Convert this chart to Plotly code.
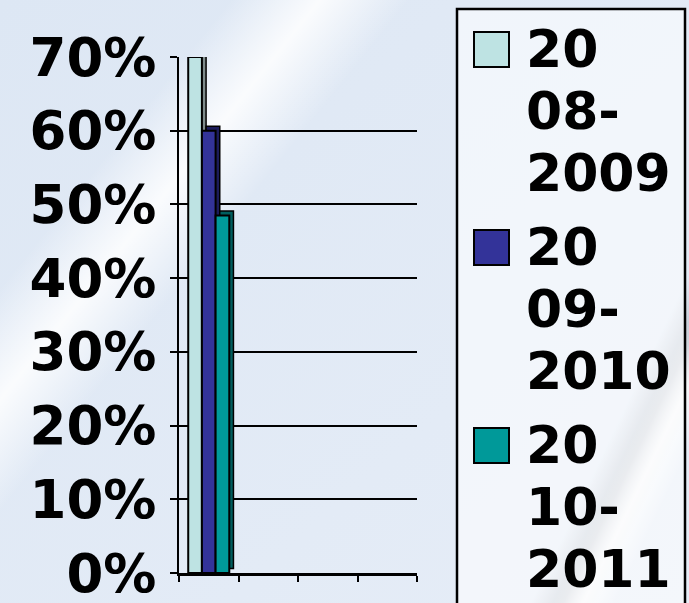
import base64
import math
import plotly.graph_objects as go

# ---------------- data ----------------
categories = ["c1", "c2", "c3", "c4"]          # category slots on the x axis (labels hidden)
series_names = ["2008-2009", "2009-2010", "2010-2011"]
series_values = [0.70, 0.60, 0.485]
series_colors = ["#BEE3E3", "#333399", "#009999"]
side_colors = ["#7F8C8C", "#1B1B5A", "#005E5E"]
y_tick_values = [0.0, 0.1, 0.2, 0.3, 0.4, 0.5, 0.6, 0.7]
y_tick_labels = ["0%", "10%", "20%", "30%", "40%", "50%", "60%", "70%"]

# ---------------- geometry ----------------
W, H = 689, 603
ML, MR, MT, MB = 179, 272, 57, 30
PW, PH = W - ML - MR, H - MT - MB


def fx(px):
    return (px - ML) / PW


def fy(py):
    return 1 - (py - MT) / PH


FONT = dict(family="DejaVu Sans", size=52, color="black", weight="bold")
TICKFONT = dict(family="DejaVu Sans", size=53, color="black", weight="bold")

# ---------------- background (svg gradient image) ----------------
def band(id_, p0, p1, half, color, peak_op):
    (x0, y0), (x1, y1) = p0, p1
    dx, dy = x1 - x0, y1 - y0
    ln = math.hypot(dx, dy)
    nx, ny = dy / ln, -dx / ln
    if nx < 0:
        nx, ny = -nx, -ny
    L = 900
    sx, sy = x0 - nx * L / 2, y0 - ny * L / 2
    ex, ey = x0 + nx * L / 2, y0 + ny * L / 2
    a = (L / 2 - half) / L
    b = (L / 2 + half) / L
    return (f"<linearGradient id='{id_}' gradientUnits='userSpaceOnUse' x1='{sx:.1f}' y1='{sy:.1f}' x2='{ex:.1f}' y2='{ey:.1f}'>"
            f"<stop offset='0' stop-color='{color}' stop-opacity='0'/>"
            f"<stop offset='{a:.4f}' stop-color='{color}' stop-opacity='0'/>"
            f"<stop offset='0.5' stop-color='{color}' stop-opacity='{peak_op}'/>"
            f"<stop offset='{b:.4f}' stop-color='{color}' stop-opacity='0'/>"
            f"<stop offset='1' stop-color='{color}' stop-opacity='0'/>"
            f"</linearGradient>")


svg = (f"<svg xmlns='http://www.w3.org/2000/svg' width='{W}' height='{H}'>"
       "<defs>"
       "<linearGradient id='bg' x1='0' y1='0' x2='1' y2='1'>"
       "<stop offset='0' stop-color='#DDE7F4'/><stop offset='1' stop-color='#E6EDF7'/>"
       "</linearGradient>"
       + band("w1", (320, 0), (0, 400), 70, "#FFFFFF", 0.85)
       + band("g1", (700, 320), (560, 610), 30, "#9EA4AE", 0.55)
       + band("w2", (720, 320), (580, 610), 28, "#FFFFFF", 0.8)
       + "</defs>"
       f"<rect width='{W}' height='{H}' fill='url(#bg)'/>"
       f"<rect width='{W}' height='{H}' fill='url(#w1)'/>"
       f"<rect width='{W}' height='{H}' fill='url(#g1)'/>"
       f"<rect width='{W}' height='{H}' fill='url(#w2)'/>"
       "</svg>")
bg_uri = "data:image/svg+xml;base64," + base64.b64encode(svg.encode()).decode()

# ---------------- bars ----------------
fig = go.Figure()
group_width = 0.69
bar_w = group_width / len(series_values)
depth_x = 0.07     # fake 3-D depth, category units
depth_y = 0.006    # fake 3-D depth, value units

for i, (name, val) in enumerate(zip(series_names, series_values)):
    off = -group_width / 2 + i * bar_w
    fig.add_trace(go.Bar(
        x=[categories[0]], y=[val], base=[depth_y], offset=off + depth_x, width=bar_w,
        marker=dict(color=side_colors[i], line=dict(color="black", width=1.5)),
        showlegend=False, hoverinfo="skip"))
    fig.add_trace(go.Bar(
        x=[categories[0]], y=[val], offset=off, width=bar_w, name=name,
        marker=dict(color=series_colors[i], line=dict(color="black", width=2)),
        showlegend=False))

# ---------------- manual legend ----------------
shapes = [dict(type="rect", xref="paper", yref="paper",
               x0=fx(457), x1=fx(685), y0=fy(9), y1=fy(615),
               line=dict(color="black", width=2.5), fillcolor="rgba(255,255,255,0.55)", layer="below")]
annotations = []
entry_step = 198
line_step = 62
for i, name in enumerate(series_names):
    top = 32 + i * entry_step
    shapes.append(dict(type="rect", xref="paper", yref="paper",
                       x0=fx(474), x1=fx(509), y0=fy(top), y1=fy(top + 35),
                       fillcolor=series_colors[i], line=dict(color="black", width=2)))
    lines = [name[:2], name[2:5], name[5:]]
    for k, t in enumerate(lines):
        annotations.append(dict(text=t, xref="paper", yref="paper", showarrow=False,
                                x=fx(524), y=fy(top + 17 + k * line_step),
                                xanchor="left", yanchor="middle", font=FONT))

fig.update_layout(
    width=W, height=H, autosize=False,
    margin=dict(l=ML, r=MR, t=MT, b=MB, pad=0, autoexpand=False),
    barmode="overlay",
    paper_bgcolor="#E3EBF6",
    plot_bgcolor="rgba(255,255,255,0.5)",
    images=[dict(source=bg_uri, xref="paper", yref="paper", x=fx(0), y=fy(0),
                 sizex=W / PW, sizey=H / PH, sizing="stretch", xanchor="left",
                 yanchor="top", layer="below")],
    shapes=shapes,
    annotations=annotations,
    xaxis=dict(type="category", categoryorder="array", categoryarray=categories,
               range=[-0.5, len(categories) - 0.5], tickson="boundaries",
               showticklabels=False, ticks="outside", ticklen=6, tickwidth=2, tickcolor="black",
               showline=True, linecolor="black", linewidth=3, showgrid=False, zeroline=False,
               fixedrange=True, automargin=False),
    yaxis=dict(range=[0, 0.7], tickvals=y_tick_values, ticktext=y_tick_labels,
               ticks="outside", ticklen=7, tickwidth=2, tickcolor="black",
               showline=True, linecolor="black", linewidth=2,
               showgrid=True, gridcolor="black", gridwidth=2, zeroline=False,
               tickfont=TICKFONT, ticklabelstandoff=3, ticklabeloverflow="allow",
               fixedrange=True, automargin=False),
    showlegend=False,
)

fig.write_html("out.html", config={"displayModeBar": False, "responsive": False},
               post_script="document.body.style.margin='0';document.body.style.background='#E3EBF6';")
